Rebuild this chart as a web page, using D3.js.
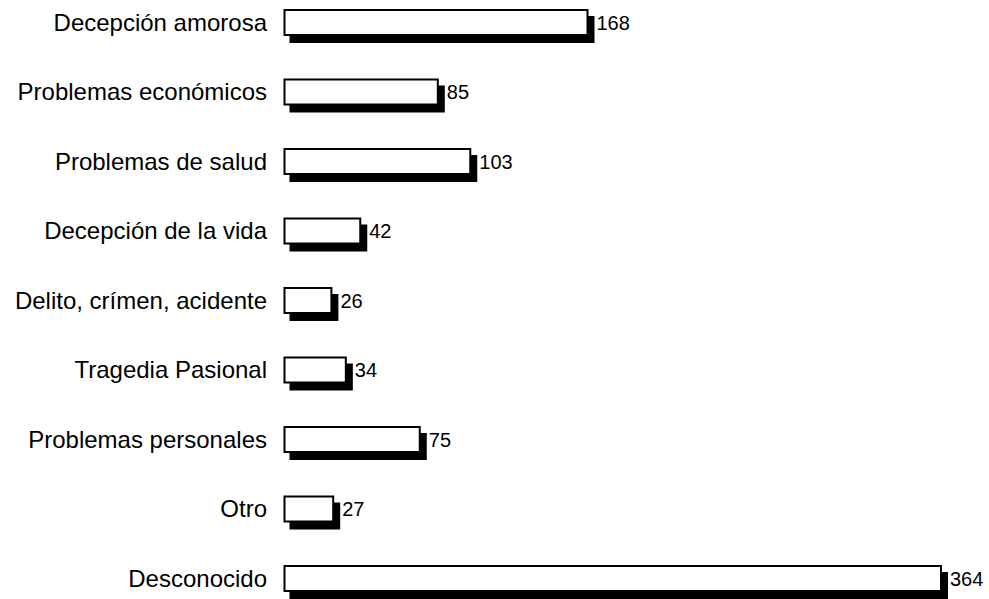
<!DOCTYPE html>
<html>
<head>
<meta charset="utf-8">
<script src="https://cdn.jsdelivr.net/npm/d3@7"></script>
<style>
  html, body { margin: 0; padding: 0; background: #fff; }
  svg { display: block; }
</style>
</head>
<body>
<svg id="chart" width="989" height="599"></svg>
<script>
const categories = [
  "Decepción amorosa",
  "Problemas económicos",
  "Problemas de salud",
  "Decepción de la vida",
  "Delito, crímen, acidente",
  "Tragedia Pasional",
  "Problemas personales",
  "Otro",
  "Desconocido"
];
const values = [168, 85, 103, 42, 26, 34, 75, 27, 364];

const svg = d3.select("#chart");

const x = d3.scaleLinear().domain([0, 364]).range([284.5, 941]);
const y = d3.scaleBand()
  .domain(categories)
  .range([-12.25, 613.25])
  .paddingInner(0.6403)
  .paddingOuter(0.32015);

const data = categories.map((c, i) => ({ cat: c, val: values[i] }));
const sdx = 6, sdy = 7;

const g = svg.append("g");

// shadows
g.selectAll("rect.shadow").data(data).join("rect")
  .attr("class", "shadow")
  .attr("x", d => x(0) - 1 + sdx)
  .attr("y", d => y(d.cat) - 1 + sdy)
  .attr("width", d => x(d.val) - x(0) + 2)
  .attr("height", y.bandwidth() + 2)
  .attr("fill", "#000");

// bars
g.selectAll("rect.bar").data(data).join("rect")
  .attr("class", "bar")
  .attr("x", d => x(0))
  .attr("y", d => y(d.cat))
  .attr("width", d => x(d.val) - x(0))
  .attr("height", y.bandwidth())
  .attr("fill", "#fff")
  .attr("stroke", "#000")
  .attr("stroke-width", 2);

// category labels
g.selectAll("text.cat").data(data).join("text")
  .attr("class", "cat")
  .attr("x", 267)
  .attr("y", d => y(d.cat) + y.bandwidth() / 2)
  .attr("dy", "0.35em")
  .attr("text-anchor", "end")
  .attr("font-family", "'Liberation Sans', Arial, sans-serif")
  .attr("font-size", 24)
  .attr("fill", "#000")
  .text(d => d.cat);

// value labels
g.selectAll("text.val").data(data).join("text")
  .attr("class", "val")
  .attr("x", d => x(d.val) + 1 + sdx + 2)
  .attr("y", d => y(d.cat) + y.bandwidth() / 2)
  .attr("dy", "0.36em")
  .attr("text-anchor", "start")
  .attr("font-family", "'Liberation Sans', Arial, sans-serif")
  .attr("font-size", 20)
  .attr("fill", "#000")
  .text(d => d.val);
</script>
</body>
</html>
